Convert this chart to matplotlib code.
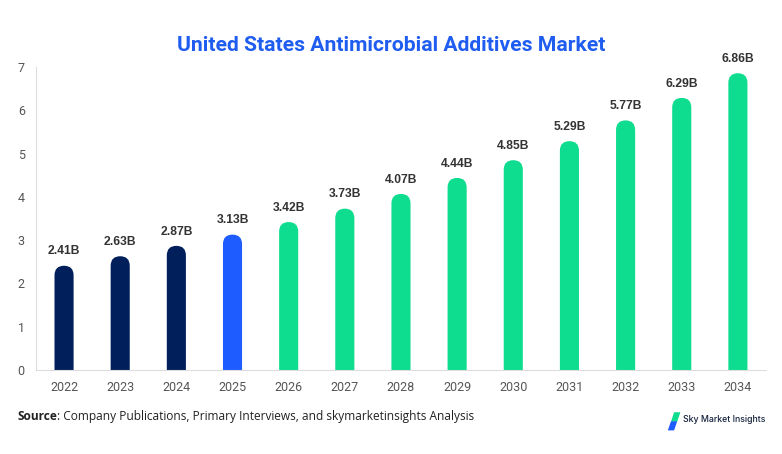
import matplotlib.pyplot as plt
from matplotlib.patches import FancyBboxPatch, Polygon

# data
years = ['2022', '2023', '2024', '2025', '2026', '2027', '2028',
         '2029', '2030', '2031', '2032', '2033', '2034']
values = [2.41, 2.63, 2.87, 3.13, 3.42, 3.73, 4.07, 4.44, 4.85, 5.29, 5.77, 6.29, 6.86]
labels = ['2.41B', '2.63B', '2.87B', '3.13B', '3.42B', '3.73B', '4.07B',
          '4.44B', '4.85B', '5.29B', '5.77B', '6.29B', '6.86B']

navy = '#001f5b'
blue = '#1f5cff'
green = '#0edc8e'
colors = [navy] * 3 + [blue] + [green] * 9

plt.rcParams['font.family'] = ['Roboto', 'DejaVu Sans']

fig = plt.figure(figsize=(7.82, 4.54), dpi=100)
ax = fig.add_axes([0.046, 0.185, 0.9335, 0.667])

bar_w = 0.34
rx = bar_w / 2
ry = 0.22
for i, v in enumerate(values):
    # rounded top, bottom rounding hidden below the axis
    p = FancyBboxPatch((i - bar_w / 2, -ry), bar_w, v + ry,
                       boxstyle=f"round,pad=0,rounding_size={rx}",
                       mutation_aspect=ry / rx,
                       facecolor=colors[i], edgecolor='none', clip_on=True)
    ax.add_patch(p)
    ax.annotate(labels[i], (i, v), xytext=(0, 6), textcoords='offset points',
                ha='center', va='bottom', fontsize=8.7, fontweight='bold',
                color='#333333', family=['Liberation Sans', 'DejaVu Sans'])

ax.set_xlim(-0.5, len(years) - 0.5)
ax.set_ylim(0, 7)
ax.set_xticks(range(len(years)))
ax.set_xticklabels(years)
ax.set_yticks(range(8))
ax.tick_params(axis='both', length=0, labelsize=9, colors='#555555')
ax.tick_params(axis='x', pad=8)
ax.tick_params(axis='y', pad=8)
for s in ['top', 'right']:
    ax.spines[s].set_visible(False)
for s in ['left', 'bottom']:
    ax.spines[s].set_color('#dddddd')

fig.text(0.5, 0.90, 'United States Antimicrobial Additives Market',
         ha='center', va='center', fontsize=15.2, fontweight='bold', color='#1f5cf0')

# source line: bold label followed by regular text
src = fig.text(0.022, 0.083, 'Source', fontsize=8.6, va='center', color='#222222',
               family='Open Sans', fontweight='bold')
fig.canvas.draw()
bb = src.get_window_extent()
fig.text(bb.x1 / fig.bbox.width, 0.083,
         ': Company Publications, Primary Interviews, and skymarketinsights Analysis',
         fontsize=8.6, va='center', color='#222222', family='Open Sans')

# logo
fig.patches.append(Polygon([(0.862, 0.092), (0.870, 0.092), (0.866, 0.071), (0.858, 0.071)],
                           closed=True, transform=fig.transFigure, facecolor=green))
fig.patches.append(Polygon([(0.858, 0.072), (0.866, 0.072), (0.862, 0.052), (0.854, 0.052)],
                           closed=True, transform=fig.transFigure, facecolor=blue))
fig.text(0.873, 0.076, 'Sky Market Insights', fontsize=6.3, va='center',
         color='#14213d', fontweight='medium', family='Inter')

fig.savefig('out.png', dpi=100)
